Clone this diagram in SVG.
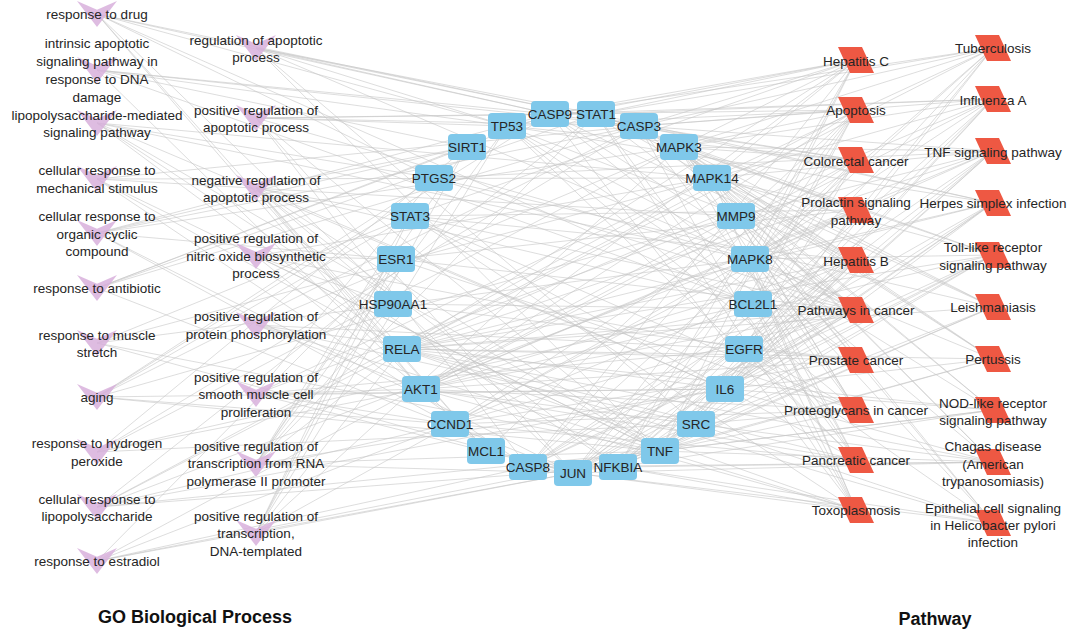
<svg xmlns="http://www.w3.org/2000/svg" width="1071" height="633" viewBox="0 0 1071 633">
<style>
.edges path{stroke:#c6c6c6;stroke-width:1;fill:none;stroke-opacity:.6}
.go use{fill:#d8b0dc;fill-opacity:.85}
.gene rect{fill:#7fc8ea}
.pw use{fill:#ee5843}
text{font-family:"Liberation Sans",Arial,sans-serif;font-size:13.5px;fill:#252525;text-anchor:middle}
.title{font-size:18px;font-weight:bold;fill:#111}
</style>
<defs>
<path id="vee" d="M-20 -13L0 -4.3L20 -13L0 13Z"/>
<path id="para" d="M-18 -13L6 -13L18 13L-6 13Z"/>
</defs>
<rect width="1071" height="633" fill="#fff"/>
<g id="connectors" class="edges">
<path d="M97 14L639 126"/><path d="M97 14L550 114"/><path d="M97 14L507 126"/><path d="M97 14L421 389"/><path d="M97 14L573 473"/><path d="M97 14L486 451"/><path d="M97 14L753 304"/><path d="M97 14L434 178"/>
<path d="M97 70L507 126"/><path d="M97 70L550 114"/><path d="M97 70L753 304"/><path d="M97 70L486 451"/><path d="M97 70L467 147"/><path d="M97 70L639 126"/>
<path d="M97 123L660 451"/><path d="M97 123L402 349"/><path d="M97 123L618 467"/><path d="M97 123L712 178"/><path d="M97 123L750 259"/><path d="M97 123L725 389"/><path d="M97 123L434 178"/>
<path d="M97 179L639 126"/><path d="M97 179L528 467"/><path d="M97 179L712 178"/><path d="M97 179L660 451"/><path d="M97 179L402 349"/><path d="M97 179L736 216"/>
<path d="M97 233L639 126"/><path d="M97 233L550 114"/><path d="M97 233L573 473"/><path d="M97 233L396 259"/><path d="M97 233L679 147"/><path d="M97 233L467 147"/><path d="M97 233L450 424"/>
<path d="M97 288L639 126"/><path d="M97 288L550 114"/><path d="M97 288L573 473"/><path d="M97 288L596 114"/><path d="M97 288L467 147"/>
<path d="M97 343L750 259"/><path d="M97 343L573 473"/><path d="M97 343L712 178"/><path d="M97 343L410 216"/><path d="M97 343L660 451"/>
<path d="M97 397L639 126"/><path d="M97 397L550 114"/><path d="M97 397L450 424"/><path d="M97 397L410 216"/><path d="M97 397L725 389"/><path d="M97 397L660 451"/><path d="M97 397L434 178"/><path d="M97 397L736 216"/>
<path d="M97 452L639 126"/><path d="M97 452L467 147"/><path d="M97 452L679 147"/><path d="M97 452L753 304"/><path d="M97 452L696 424"/><path d="M97 452L421 389"/>
<path d="M97 507L660 451"/><path d="M97 507L725 389"/><path d="M97 507L712 178"/><path d="M97 507L750 259"/><path d="M97 507L402 349"/><path d="M97 507L618 467"/><path d="M97 507L596 114"/><path d="M97 507L450 424"/>
<path d="M97 561L528 467"/><path d="M97 561L450 424"/><path d="M97 561L396 259"/><path d="M97 561L736 216"/><path d="M97 561L573 473"/><path d="M97 561L660 451"/>
<path d="M256 48L596 114"/><path d="M256 48L639 126"/><path d="M256 48L550 114"/><path d="M256 48L507 126"/><path d="M256 48L660 451"/><path d="M256 48L750 259"/><path d="M256 48L696 424"/>
<path d="M256 118L639 126"/><path d="M256 118L528 467"/><path d="M256 118L550 114"/><path d="M256 118L507 126"/><path d="M256 118L660 451"/><path d="M256 118L573 473"/><path d="M256 118L750 259"/><path d="M256 118L596 114"/>
<path d="M256 188L421 389"/><path d="M256 188L753 304"/><path d="M256 188L486 451"/><path d="M256 188L725 389"/><path d="M256 188L467 147"/><path d="M256 188L393 304"/><path d="M256 188L410 216"/><path d="M256 188L402 349"/><path d="M256 188L618 467"/><path d="M256 188L660 451"/>
<path d="M256 256L421 389"/><path d="M256 256L660 451"/><path d="M256 256L393 304"/><path d="M256 256L396 259"/><path d="M256 256L744 349"/><path d="M256 256L712 178"/>
<path d="M256 325L744 349"/><path d="M256 325L725 389"/><path d="M256 325L660 451"/><path d="M256 325L421 389"/><path d="M256 325L679 147"/><path d="M256 325L696 424"/>
<path d="M256 394L421 389"/><path d="M256 394L450 424"/><path d="M256 394L744 349"/><path d="M256 394L725 389"/><path d="M256 394L573 473"/><path d="M256 394L736 216"/><path d="M256 394L434 178"/><path d="M256 394L712 178"/>
<path d="M256 464L396 259"/><path d="M256 464L573 473"/><path d="M256 464L402 349"/><path d="M256 464L410 216"/><path d="M256 464L596 114"/><path d="M256 464L507 126"/><path d="M256 464L467 147"/><path d="M256 464L660 451"/><path d="M256 464L725 389"/><path d="M256 464L393 304"/>
<path d="M256 533L396 259"/><path d="M256 533L573 473"/><path d="M256 533L402 349"/><path d="M256 533L410 216"/><path d="M256 533L507 126"/><path d="M256 533L467 147"/><path d="M256 533L679 147"/><path d="M256 533L750 259"/>
<path d="M856 60L507 126"/><path d="M856 60L596 114"/><path d="M856 60L410 216"/><path d="M856 60L402 349"/><path d="M856 60L618 467"/><path d="M856 60L421 389"/><path d="M856 60L660 451"/><path d="M856 60L679 147"/><path d="M856 60L750 259"/><path d="M856 60L712 178"/><path d="M856 60L639 126"/><path d="M856 60L528 467"/><path d="M856 60L550 114"/>
<path d="M856 110L639 126"/><path d="M856 110L528 467"/><path d="M856 110L550 114"/><path d="M856 110L507 126"/><path d="M856 110L753 304"/><path d="M856 110L486 451"/><path d="M856 110L573 473"/><path d="M856 110L421 389"/><path d="M856 110L402 349"/><path d="M856 110L618 467"/><path d="M856 110L660 451"/><path d="M856 110L679 147"/>
<path d="M856 160L507 126"/><path d="M856 160L421 389"/><path d="M856 160L639 126"/><path d="M856 160L550 114"/><path d="M856 160L450 424"/><path d="M856 160L573 473"/><path d="M856 160L679 147"/><path d="M856 160L750 259"/><path d="M856 160L744 349"/><path d="M856 160L753 304"/>
<path d="M856 210L596 114"/><path d="M856 210L410 216"/><path d="M856 210L450 424"/><path d="M856 210L396 259"/><path d="M856 210L696 424"/><path d="M856 210L679 147"/><path d="M856 210L750 259"/><path d="M856 210L712 178"/><path d="M856 210L421 389"/>
<path d="M856 260L507 126"/><path d="M856 260L596 114"/><path d="M856 260L410 216"/><path d="M856 260L402 349"/><path d="M856 260L618 467"/><path d="M856 260L421 389"/><path d="M856 260L660 451"/><path d="M856 260L573 473"/><path d="M856 260L639 126"/><path d="M856 260L528 467"/><path d="M856 260L550 114"/><path d="M856 260L450 424"/><path d="M856 260L679 147"/><path d="M856 260L696 424"/><path d="M856 260L725 389"/>
<path d="M856 310L507 126"/><path d="M856 310L596 114"/><path d="M856 310L410 216"/><path d="M856 310L402 349"/><path d="M856 310L421 389"/><path d="M856 310L639 126"/><path d="M856 310L528 467"/><path d="M856 310L550 114"/><path d="M856 310L450 424"/><path d="M856 310L573 473"/><path d="M856 310L679 147"/><path d="M856 310L750 259"/><path d="M856 310L744 349"/><path d="M856 310L753 304"/><path d="M856 310L434 178"/><path d="M856 310L393 304"/><path d="M856 310L396 259"/><path d="M856 310L736 216"/><path d="M856 310L725 389"/>
<path d="M856 360L507 126"/><path d="M856 360L421 389"/><path d="M856 360L402 349"/><path d="M856 360L618 467"/><path d="M856 360L450 424"/><path d="M856 360L679 147"/><path d="M856 360L744 349"/><path d="M856 360L393 304"/><path d="M856 360L550 114"/>
<path d="M856 410L507 126"/><path d="M856 410L410 216"/><path d="M856 410L421 389"/><path d="M856 410L450 424"/><path d="M856 410L396 259"/><path d="M856 410L679 147"/><path d="M856 410L712 178"/><path d="M856 410L744 349"/><path d="M856 410L696 424"/><path d="M856 410L736 216"/><path d="M856 410L660 451"/><path d="M856 410L639 126"/>
<path d="M856 460L507 126"/><path d="M856 460L596 114"/><path d="M856 460L410 216"/><path d="M856 460L402 349"/><path d="M856 460L421 389"/><path d="M856 460L450 424"/><path d="M856 460L679 147"/><path d="M856 460L750 259"/><path d="M856 460L744 349"/><path d="M856 460L753 304"/>
<path d="M856 510L596 114"/><path d="M856 510L410 216"/><path d="M856 510L402 349"/><path d="M856 510L618 467"/><path d="M856 510L421 389"/><path d="M856 510L660 451"/><path d="M856 510L639 126"/><path d="M856 510L528 467"/><path d="M856 510L550 114"/><path d="M856 510L750 259"/><path d="M856 510L712 178"/><path d="M856 510L753 304"/>
<path d="M993 48L596 114"/><path d="M993 48L402 349"/><path d="M993 48L660 451"/><path d="M993 48L725 389"/><path d="M993 48L639 126"/><path d="M993 48L528 467"/><path d="M993 48L550 114"/><path d="M993 48L679 147"/><path d="M993 48L750 259"/><path d="M993 48L712 178"/><path d="M993 48L753 304"/>
<path d="M993 99L596 114"/><path d="M993 99L402 349"/><path d="M993 99L618 467"/><path d="M993 99L421 389"/><path d="M993 99L660 451"/><path d="M993 99L725 389"/><path d="M993 99L573 473"/><path d="M993 99L639 126"/><path d="M993 99L550 114"/><path d="M993 99L679 147"/><path d="M993 99L750 259"/><path d="M993 99L712 178"/>
<path d="M993 151L402 349"/><path d="M993 151L618 467"/><path d="M993 151L421 389"/><path d="M993 151L660 451"/><path d="M993 151L725 389"/><path d="M993 151L573 473"/><path d="M993 151L639 126"/><path d="M993 151L528 467"/><path d="M993 151L679 147"/><path d="M993 151L750 259"/><path d="M993 151L712 178"/><path d="M993 151L434 178"/><path d="M993 151L736 216"/>
<path d="M993 203L596 114"/><path d="M993 203L402 349"/><path d="M993 203L618 467"/><path d="M993 203L660 451"/><path d="M993 203L725 389"/><path d="M993 203L573 473"/><path d="M993 203L639 126"/><path d="M993 203L528 467"/><path d="M993 203L750 259"/><path d="M993 203L507 126"/>
<path d="M993 255L596 114"/><path d="M993 255L402 349"/><path d="M993 255L618 467"/><path d="M993 255L421 389"/><path d="M993 255L660 451"/><path d="M993 255L725 389"/><path d="M993 255L573 473"/><path d="M993 255L528 467"/><path d="M993 255L679 147"/><path d="M993 255L750 259"/><path d="M993 255L712 178"/>
<path d="M993 307L596 114"/><path d="M993 307L402 349"/><path d="M993 307L618 467"/><path d="M993 307L660 451"/><path d="M993 307L573 473"/><path d="M993 307L679 147"/><path d="M993 307L712 178"/><path d="M993 307L434 178"/>
<path d="M993 359L402 349"/><path d="M993 359L660 451"/><path d="M993 359L725 389"/><path d="M993 359L573 473"/><path d="M993 359L639 126"/><path d="M993 359L679 147"/><path d="M993 359L750 259"/><path d="M993 359L712 178"/>
<path d="M993 410L402 349"/><path d="M993 410L618 467"/><path d="M993 410L660 451"/><path d="M993 410L725 389"/><path d="M993 410L679 147"/><path d="M993 410L750 259"/><path d="M993 410L712 178"/><path d="M993 410L528 467"/>
<path d="M993 462L402 349"/><path d="M993 462L618 467"/><path d="M993 462L421 389"/><path d="M993 462L660 451"/><path d="M993 462L725 389"/><path d="M993 462L573 473"/><path d="M993 462L528 467"/><path d="M993 462L679 147"/><path d="M993 462L750 259"/><path d="M993 462L712 178"/>
<path d="M993 523L402 349"/><path d="M993 523L618 467"/><path d="M993 523L573 473"/><path d="M993 523L679 147"/><path d="M993 523L750 259"/><path d="M993 523L712 178"/><path d="M993 523L744 349"/><path d="M993 523L696 424"/>
</g>
<g id="go-nodes" class="go">
<g id="go-response-to-drug"><use href="#vee" x="97" y="14"/><text x="97" y="19">response to drug</text></g>
<g id="go-intrinsic-apoptotic"><use href="#vee" x="97" y="70"/><text x="97" y="48"><tspan x="97">intrinsic apoptotic</tspan><tspan x="97" dy="18">signaling pathway in</tspan><tspan x="97" dy="18">response to DNA</tspan><tspan x="97" dy="18">damage</tspan></text></g>
<g id="go-lps-mediated"><use href="#vee" x="97" y="123"/><text x="97" y="119.5"><tspan x="97">lipopolysaccharide-mediated</tspan><tspan x="97" dy="17.5">signaling pathway</tspan></text></g>
<g id="go-mechanical-stimulus"><use href="#vee" x="97" y="179"/><text x="97" y="175"><tspan x="97">cellular response to</tspan><tspan x="97" dy="17.5">mechanical stimulus</tspan></text></g>
<g id="go-organic-cyclic"><use href="#vee" x="97" y="233"/><text x="97" y="221"><tspan x="97">cellular response to</tspan><tspan x="97" dy="17.5">organic cyclic</tspan><tspan x="97" dy="17.5">compound</tspan></text></g>
<g id="go-antibiotic"><use href="#vee" x="97" y="288"/><text x="97" y="293">response to antibiotic</text></g>
<g id="go-muscle-stretch"><use href="#vee" x="97" y="343"/><text x="97" y="339.5"><tspan x="97">response to muscle</tspan><tspan x="97" dy="17.5">stretch</tspan></text></g>
<g id="go-aging"><use href="#vee" x="97" y="397"/><text x="97" y="402">aging</text></g>
<g id="go-hydrogen-peroxide"><use href="#vee" x="97" y="452"/><text x="97" y="448"><tspan x="97">response to hydrogen</tspan><tspan x="97" dy="17.5">peroxide</tspan></text></g>
<g id="go-cellular-lps"><use href="#vee" x="97" y="507"/><text x="97" y="503.5"><tspan x="97">cellular response to</tspan><tspan x="97" dy="17.5">lipopolysaccharide</tspan></text></g>
<g id="go-estradiol"><use href="#vee" x="97" y="561"/><text x="97" y="566">response to estradiol</text></g>
<g id="go-reg-apoptotic"><use href="#vee" x="256" y="48"/><text x="256" y="44.5"><tspan x="256">regulation of apoptotic</tspan><tspan x="256" dy="17.5">process</tspan></text></g>
<g id="go-pos-reg-apoptotic"><use href="#vee" x="256" y="118"/><text x="256" y="114.5"><tspan x="256">positive regulation of</tspan><tspan x="256" dy="17.5">apoptotic process</tspan></text></g>
<g id="go-neg-reg-apoptotic"><use href="#vee" x="256" y="188"/><text x="256" y="184.5"><tspan x="256">negative regulation of</tspan><tspan x="256" dy="17.5">apoptotic process</tspan></text></g>
<g id="go-nitric-oxide"><use href="#vee" x="256" y="256"/><text x="256" y="243"><tspan x="256">positive regulation of</tspan><tspan x="256" dy="17.5">nitric oxide biosynthetic</tspan><tspan x="256" dy="17.5">process</tspan></text></g>
<g id="go-protein-phosphorylation"><use href="#vee" x="256" y="325"/><text x="256" y="321"><tspan x="256">positive regulation of</tspan><tspan x="256" dy="17.5">protein phosphorylation</tspan></text></g>
<g id="go-smooth-muscle"><use href="#vee" x="256" y="394"/><text x="256" y="381.5"><tspan x="256">positive regulation of</tspan><tspan x="256" dy="17.5">smooth muscle cell</tspan><tspan x="256" dy="17.5">proliferation</tspan></text></g>
<g id="go-transcription-rna-pol2"><use href="#vee" x="256" y="464"/><text x="256" y="450.5"><tspan x="256">positive regulation of</tspan><tspan x="256" dy="17.5">transcription from RNA</tspan><tspan x="256" dy="17.5">polymerase II promoter</tspan></text></g>
<g id="go-transcription-dna"><use href="#vee" x="256" y="533"/><text x="256" y="520.5"><tspan x="256">positive regulation of</tspan><tspan x="256" dy="17.5">transcription,</tspan><tspan x="256" dy="17.5">DNA-templated</tspan></text></g>
</g>
<g id="gene-nodes" class="gene">
<g id="gene-JUN"><rect x="554" y="460" width="38" height="26" rx="4"/><text x="573" y="478">JUN</text></g>
<g id="gene-CASP8"><rect x="509" y="454" width="38" height="26" rx="4"/><text x="528" y="472">CASP8</text></g>
<g id="gene-MCL1"><rect x="467" y="438" width="38" height="26" rx="4"/><text x="486" y="456">MCL1</text></g>
<g id="gene-CCND1"><rect x="431" y="411" width="38" height="26" rx="4"/><text x="450" y="429">CCND1</text></g>
<g id="gene-AKT1"><rect x="402" y="376" width="38" height="26" rx="4"/><text x="421" y="394">AKT1</text></g>
<g id="gene-RELA"><rect x="383" y="336" width="38" height="26" rx="4"/><text x="402" y="354">RELA</text></g>
<g id="gene-HSP90AA1"><rect x="374" y="291" width="38" height="26" rx="4"/><text x="393" y="309">HSP90AA1</text></g>
<g id="gene-ESR1"><rect x="377" y="246" width="38" height="26" rx="4"/><text x="396" y="264">ESR1</text></g>
<g id="gene-STAT3"><rect x="391" y="203" width="38" height="26" rx="4"/><text x="410" y="221">STAT3</text></g>
<g id="gene-PTGS2"><rect x="415" y="165" width="38" height="26" rx="4"/><text x="434" y="183">PTGS2</text></g>
<g id="gene-SIRT1"><rect x="448" y="134" width="38" height="26" rx="4"/><text x="467" y="152">SIRT1</text></g>
<g id="gene-TP53"><rect x="488" y="113" width="38" height="26" rx="4"/><text x="507" y="131">TP53</text></g>
<g id="gene-CASP9"><rect x="531" y="101" width="38" height="26" rx="4"/><text x="550" y="119">CASP9</text></g>
<g id="gene-STAT1"><rect x="577" y="101" width="38" height="26" rx="4"/><text x="596" y="119">STAT1</text></g>
<g id="gene-CASP3"><rect x="620" y="113" width="38" height="26" rx="4"/><text x="639" y="131">CASP3</text></g>
<g id="gene-MAPK3"><rect x="660" y="134" width="38" height="26" rx="4"/><text x="679" y="152">MAPK3</text></g>
<g id="gene-MAPK14"><rect x="693" y="165" width="38" height="26" rx="4"/><text x="712" y="183">MAPK14</text></g>
<g id="gene-MMP9"><rect x="717" y="203" width="38" height="26" rx="4"/><text x="736" y="221">MMP9</text></g>
<g id="gene-MAPK8"><rect x="731" y="246" width="38" height="26" rx="4"/><text x="750" y="264">MAPK8</text></g>
<g id="gene-BCL2L1"><rect x="734" y="291" width="38" height="26" rx="4"/><text x="753" y="309">BCL2L1</text></g>
<g id="gene-EGFR"><rect x="725" y="336" width="38" height="26" rx="4"/><text x="744" y="354">EGFR</text></g>
<g id="gene-IL6"><rect x="706" y="376" width="38" height="26" rx="4"/><text x="725" y="394">IL6</text></g>
<g id="gene-SRC"><rect x="677" y="411" width="38" height="26" rx="4"/><text x="696" y="429">SRC</text></g>
<g id="gene-TNF"><rect x="641" y="438" width="38" height="26" rx="4"/><text x="660" y="456">TNF</text></g>
<g id="gene-NFKBIA"><rect x="599" y="454" width="38" height="26" rx="4"/><text x="618" y="472">NFKBIA</text></g>
</g>
<g id="pathway-nodes" class="pw">
<g id="pw-hepatitis-c"><use href="#para" x="856" y="60"/><text x="856" y="65.5">Hepatitis C</text></g>
<g id="pw-apoptosis"><use href="#para" x="856" y="110"/><text x="856" y="115">Apoptosis</text></g>
<g id="pw-colorectal-cancer"><use href="#para" x="856" y="160"/><text x="856" y="165.5">Colorectal cancer</text></g>
<g id="pw-prolactin"><use href="#para" x="856" y="210"/><text x="856" y="207"><tspan x="856">Prolactin signaling</tspan><tspan x="856" dy="17.5">pathway</tspan></text></g>
<g id="pw-hepatitis-b"><use href="#para" x="856" y="260"/><text x="856" y="265.5">Hepatitis B</text></g>
<g id="pw-pathways-in-cancer"><use href="#para" x="856" y="310"/><text x="856" y="315">Pathways in cancer</text></g>
<g id="pw-prostate-cancer"><use href="#para" x="856" y="360"/><text x="856" y="365">Prostate cancer</text></g>
<g id="pw-proteoglycans"><use href="#para" x="856" y="410"/><text x="856" y="415">Proteoglycans in cancer</text></g>
<g id="pw-pancreatic-cancer"><use href="#para" x="856" y="460"/><text x="856" y="465">Pancreatic cancer</text></g>
<g id="pw-toxoplasmosis"><use href="#para" x="856" y="510"/><text x="856" y="515">Toxoplasmosis</text></g>
<g id="pw-tuberculosis"><use href="#para" x="993" y="48"/><text x="993" y="53">Tuberculosis</text></g>
<g id="pw-influenza-a"><use href="#para" x="993" y="99"/><text x="993" y="104.5">Influenza A</text></g>
<g id="pw-tnf-signaling"><use href="#para" x="993" y="151"/><text x="993" y="156.5">TNF signaling pathway</text></g>
<g id="pw-herpes-simplex"><use href="#para" x="993" y="203"/><text x="993" y="208">Herpes simplex infection</text></g>
<g id="pw-toll-like"><use href="#para" x="993" y="255"/><text x="993" y="252"><tspan x="993">Toll-like receptor</tspan><tspan x="993" dy="17.5">signaling pathway</tspan></text></g>
<g id="pw-leishmaniasis"><use href="#para" x="993" y="307"/><text x="993" y="312">Leishmaniasis</text></g>
<g id="pw-pertussis"><use href="#para" x="993" y="359"/><text x="993" y="364">Pertussis</text></g>
<g id="pw-nod-like"><use href="#para" x="993" y="410"/><text x="993" y="407.5"><tspan x="993">NOD-like receptor</tspan><tspan x="993" dy="17.5">signaling pathway</tspan></text></g>
<g id="pw-chagas"><use href="#para" x="993" y="462"/><text x="993" y="451"><tspan x="993">Chagas disease</tspan><tspan x="993" dy="17.5">(American</tspan><tspan x="993" dy="17.5">trypanosomiasis)</tspan></text></g>
<g id="pw-epithelial-hp"><use href="#para" x="993" y="523"/><text x="993" y="513"><tspan x="993">Epithelial cell signaling</tspan><tspan x="993" dy="17">in Helicobacter pylori</tspan><tspan x="993" dy="17">infection</tspan></text></g>
</g>
<g id="titles">
<text class="title" x="195" y="623">GO Biological Process</text>
<text class="title" x="935" y="625">Pathway</text>
</g>
</svg>
